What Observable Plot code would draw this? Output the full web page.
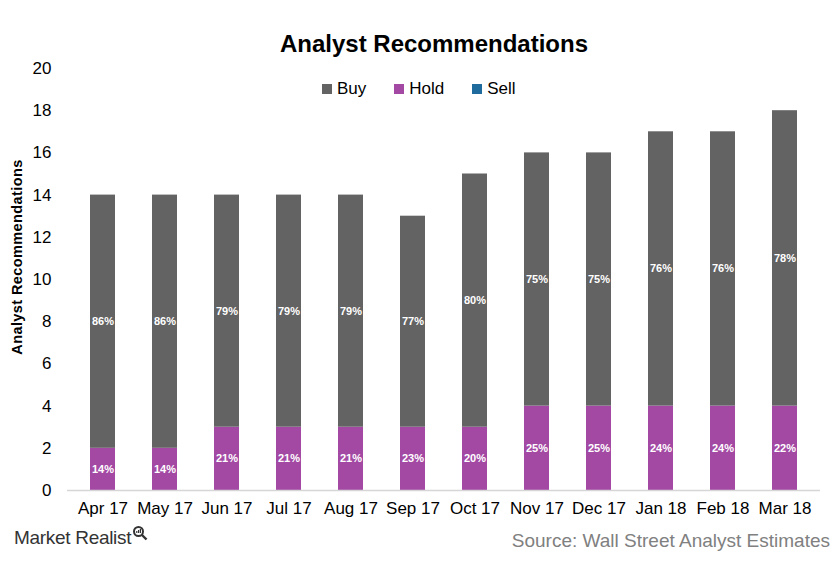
<!DOCTYPE html>
<html>
<head>
<meta charset="utf-8">
<script src="https://cdn.jsdelivr.net/npm/d3@7"></script>
<script src="https://cdn.jsdelivr.net/npm/@observablehq/plot@0.6"></script>
<style>
  body { margin: 0; background: #fff; font-family: "Liberation Sans", Arial, sans-serif; }
  #wrap { position: relative; width: 840px; height: 580px; overflow: hidden; }
  #chart { position: absolute; left: 0; top: 0; }
  .abs { position: absolute; white-space: nowrap; }
  #title { left: 0; width: 868px; top: 30px; text-align: center; font-size: 24px; font-weight: bold; color: #000; }
  #legend { left: 322px; top: 79px; font-size: 17px; color: #000; display: flex; align-items: center; }
  #legend .item { display: flex; align-items: center; }
  #legend .sw { width: 10px; height: 10px; display: inline-block; margin-right: 5px; }
  #ylabel { left: 17px; top: 257px; transform: translate(-50%, -50%) rotate(-90deg); font-size: 14.5px; font-weight: bold; color: #000; letter-spacing: 0.4px; }
  #brand { left: 14px; top: 527px; font-size: 19px; color: #333; display: flex; align-items: flex-start; letter-spacing: -0.3px; }
  #source { right: 10px; top: 530px; font-size: 19px; color: #808080; }
</style>
</head>
<body>
<div id="wrap">
  <div id="chart"></div>
  <div id="title" class="abs">Analyst Recommendations</div>
  <div id="legend" class="abs"></div>
  <div id="ylabel" class="abs">Analyst Recommendations</div>
  <div id="brand" class="abs">Market Realist<svg width="16" height="16" viewBox="0 0 16 16" style="margin-left:1px;margin-top:-2px"><circle cx="6.5" cy="6.5" r="4.5" fill="none" stroke="#333" stroke-width="2"/><line x1="10" y1="10" x2="14.5" y2="14.5" stroke="#333" stroke-width="2.4"/><rect x="4.2" y="6" width="1.2" height="2" fill="#333"/><rect x="6" y="5" width="1.2" height="3" fill="#333"/><rect x="7.8" y="4" width="1.2" height="4" fill="#333"/></svg></div>
  <div id="source" class="abs">Source: Wall Street Analyst Estimates</div>
</div>
<script>
const months = ["Apr 17","May 17","Jun 17","Jul 17","Aug 17","Sep 17","Oct 17","Nov 17","Dec 17","Jan 18","Feb 18","Mar 18"];
const buy  = [12,12,11,11,11,10,12,12,12,13,13,14];
const hold = [2,2,3,3,3,3,3,4,4,4,4,4];
const sell = [0,0,0,0,0,0,0,0,0,0,0,0];
const buyPct  = [86,86,79,79,79,77,80,75,75,76,76,78];
const holdPct = [14,14,21,21,21,23,20,25,25,24,24,22];
const yTicks = [0,2,4,6,8,10,12,14,16,18,20];
const types = ["Buy","Hold","Sell"];
const colors = ["#636363","#A349A4","#1F6B9E"];

const rows = months.flatMap((m, i) => [
  {month: m, type: "Hold", value: hold[i], pct: holdPct[i]},
  {month: m, type: "Buy", value: buy[i], pct: buyPct[i]},
  {month: m, type: "Sell", value: sell[i], pct: null}
]);
const order = ["Hold","Buy","Sell"];

const chart = Plot.plot({
  width: 840,
  height: 580,
  marginLeft: 67,
  marginRight: 20,
  marginTop: 68,
  marginBottom: 90,
  style: {fontFamily: "'Liberation Sans', Arial, sans-serif", fontSize: "17px", color: "#000", background: "#fff"},
  x: {domain: months, paddingInner: 0.6, paddingOuter: 0.3, label: null, tickSize: 0, tickPadding: 11},
  y: {domain: [0, 20], ticks: yTicks, label: null, tickSize: 0, tickPadding: 16},
  color: {domain: types, range: colors},
  marks: [
    Plot.gridY(yTicks.filter(t => t > 0), {stroke: "#d6d6d6", strokeOpacity: 1, strokeDasharray: "4,3", x1: 66, x2: 820}),
    Plot.barY(rows, Plot.stackY({x: "month", y: "value", fill: "type", order})),
    Plot.ruleY([0], {stroke: "#d6d6d6", strokeWidth: 1.5}),
    Plot.text(rows, Plot.stackY({
      x: "month", y: "value", z: "type", order,
      text: d => d.value > 0 ? d.pct + "%" : null,
      fill: "#fff", fontSize: 11, fontWeight: "bold"
    }))
  ]
});
document.getElementById("chart").appendChild(chart);

const legend = document.getElementById("legend");
types.forEach((t, i) => {
  const item = document.createElement("div");
  item.className = "item";
  item.style.marginRight = i < types.length - 1 ? "28px" : "0";
  item.innerHTML = `<span class="sw" style="background:${colors[i]}"></span><span>${t}</span>`;
  legend.appendChild(item);
});
</script>
</body>
</html>
